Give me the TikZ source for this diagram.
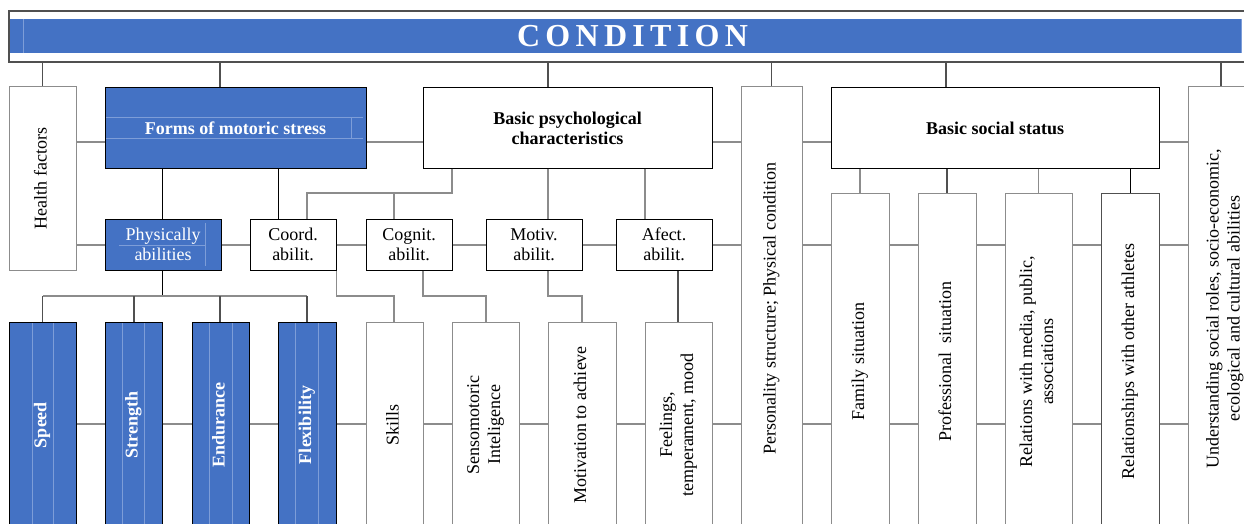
\documentclass[tikz,border=0pt]{standalone}
\usepackage{fontspec}
\setmainfont{Liberation Serif}
\usepackage{graphicx}
\definecolor{cblue}{HTML}{4472C4}
\definecolor{faint}{HTML}{7D9DD8}
\definecolor{lgray}{HTML}{8C8C8C}
\definecolor{dgray}{HTML}{505050}
\newcommand\mkbox[7]{\node[#1, minimum width={(#5-#3)*1pt}, minimum height={(#6-#4)*1pt}] (#2) at ({(#3+#5)/2},{(#4+#6)/2}) {#7};}
\newcommand\rt[1]{\rotatebox{90}{\begin{tabular}{@{}c@{}}#1\end{tabular}}}
\tikzset{
  bx/.style={draw=black, line width=1pt, fill=white, inner sep=0pt, align=center, font=\fontsize{18}{20}\selectfont},
  gbx/.style={bx, draw=lgray},
  bbx/.style={bx, fill=cblue, text=white},
  bold/.style={font=\fontsize{18}{20}\selectfont\bfseries},
  rfont/.style={font=\fontsize{18}{21}\selectfont},
  gl/.style={draw=lgray, line width=1.5pt},
  dl/.style={draw=dgray, line width=1.2pt},
  kl/.style={draw=black, line width=1pt},
  fl/.style={draw=faint, line width=0.8pt}
}
\begin{document}
\begin{tikzpicture}[x=1pt, y=-1pt]
\useasboundingbox (0,0) rectangle (1244,524);
\clip (0,0) rectangle (1244,524);
% top banner
\node[draw=dgray, line width=1.3pt, fill=white, inner sep=0pt, minimum width=1241pt, minimum height=51pt] (top) at (629.5,36.5) {};
\fill[cblue] (10,19) rectangle (1241,53);
\draw[fl] (23,19) -- (23,53) (1241,19) -- (1241,53);
\node[anchor=base, text=white, inner sep=0pt, font=\fontsize{32}{36}\selectfont\bfseries] (cond) at (632.5,47) {\hbox to 231pt{C\hfill O\hfill N\hfill D\hfill I\hfill T\hfill I\hfill O\hfill N}};
% level 1
\mkbox{gbx, rfont}{hf}{9}{87}{76}{270}{\rt{Health factors}}
\mkbox{bbx, bold}{fm}{105}{88}{366}{168}{Forms of motoric stress}
\mkbox{bx, bold}{bp}{423}{88}{712}{168}{Basic psychological\\characteristics}
\mkbox{gbx, rfont}{ps}{741}{87}{802}{530}{\rt{Personality structure; Physical condition}}
\mkbox{bx, bold}{bs}{831}{88}{1159}{168}{Basic social status}
\mkbox{gbx, rfont}{us}{1188}{87}{1262}{530}{\rt{Understanding social roles, socio-economic,\\ecological and cultural abilities}}
% level 2
\mkbox{bbx}{pa}{105}{219}{221}{270}{Physically\\abilities}
\mkbox{bx}{co}{250}{219}{336}{270}{Coord.\\abilit.}
\mkbox{bx}{cg}{366}{219}{452}{270}{Cognit.\\abilit.}
\mkbox{bx}{mo}{486}{219}{582}{270}{Motiv.\\abilit.}
\mkbox{bx}{af}{616}{219}{712}{270}{Afect.\\abilit.}
\mkbox{gbx, rfont}{fs}{831}{193}{889}{530}{\rt{Family situation}}
\mkbox{gbx, rfont}{pr}{918}{193}{976}{530}{\rt{Professional\ \ situation}}
\mkbox{gbx, rfont}{rm}{1005}{193}{1072}{530}{\rt{Relations with media, public,\\associations}}
\mkbox{bx, rfont, draw=dgray}{ra}{1101}{193}{1159}{530}{\rt{Relationships with other athletes}}
% level 3
\mkbox{bbx, bold}{sp}{9}{322}{76}{528}{\rt{Speed}}
\mkbox{bbx, bold}{st}{105}{322}{162}{528}{\rt{Strength}}
\mkbox{bbx, bold}{en}{192}{322}{249}{528}{\rt{Endurance}}
\mkbox{bbx, bold}{fl}{278}{322}{336}{528}{\rt{Flexibility}}
\mkbox{gbx, rfont}{sk}{366}{322}{423}{528}{\rt{Skills}}
\mkbox{gbx, rfont}{se}{452}{322}{519}{528}{\rt{Sensomotoric\\Inteligence}}
\mkbox{gbx, rfont}{mt}{548}{322}{616}{528}{\rt{Motivation to achieve}}
\mkbox{gbx, rfont}{fe}{645}{322}{712}{528}{\rt{Feelings,\\temperament, mood}}
% faint inner lines of blue boxes
\draw[fl] (106,117) -- (363,117) (106,138) -- (363,138) (351,117) -- (351,138);
\draw[fl] (119,245) -- (205,245) (205,223) -- (205,266);
\foreach \xx in {32,53,122,144,209,232,295,318} \draw[fl] (\xx,323) -- (\xx,524);
% drops from the banner
\draw[dl] (top.south -| hf.north) -- (hf.north);
\draw[dl] (top.south -| 220,0) -- (fm.north -| 220,0);
\draw[dl] (top.south -| 548,0) -- (bp.north -| 548,0);
\draw[dl] (top.south -| ps.north) -- (ps.north);
\draw[dl] (top.south -| 946,0) -- (bs.north -| 946,0);
\draw[dl] (top.south -| 1221,0) -- (us.north -| 1221,0);
% bracket rows
\coordinate (b1) at (0,193);
\coordinate (b2) at (0,296);
% forms of motoric stress
\draw[kl] (fm.south -| 162,0) -- (pa.north -| 162,0);
\draw[kl] (fm.south -| 278,0) -- (co.north -| 278,0);
% physically abilities to the four blue boxes
\draw[kl] (pa.south -| 162,0) -- (b2 -| 162,0);
\draw[gl] (b2 -| sp.north) -- (b2 -| 307,0);
\draw[dl] (sp.north) -- (b2 -| sp.north);
\draw[dl] (st.north -| 134,0) -- (b2 -| 134,0);
\draw[dl] (en.north -| 220,0) -- (b2 -| 220,0);
\draw[dl] (fl.north -| 307,0) -- (b2 -| 307,0);
% basic psychological characteristics
\draw[gl] (bp.south -| 452,0) |- (b1 -| 307,0) -- (co.north -| 307,0);
\draw[gl] (b1 -| 394,0) -- (cg.north -| 394,0);
\draw[gl] (bp.south -| 548,0) -- (mo.north -| 548,0);
\draw[gl] (bp.south -| 645,0) -- (af.north -| 645,0);
% abilities to bottom boxes
\draw[gl] (co.south east) |- (b2 -| 394,0) -- (sk.north -| 394,0);
\draw[gl] (cg.south -| 423,0) |- (b2 -| 486,0) -- (se.north -| 486,0);
\draw[gl] (mo.south -| 548,0) |- (b2 -| 582,0) -- (mt.north -| 582,0);
\draw[dl] (af.south -| 678,0) -- (fe.north -| 678,0);
% basic social status
\draw[gl] (bs.south -| fs.north) -- (fs.north);
\draw[dl] (bs.south -| pr.north) -- (pr.north);
\draw[gl] (bs.south -| rm.north) -- (rm.north);
\draw[kl] (bs.south -| ra.north) -- (ra.north);
% sibling rows
\coordinate (r1) at (0,142);
\coordinate (r2) at (0,245);
\coordinate (r3) at (0,424);
\foreach \a/\b in {hf/fm, fm/bp, bp/ps, ps/bs, bs/us}
  \draw[gl] (\a.east |- r1) -- (\b.west |- r1);
\foreach \a/\b in {hf/pa, pa/co, co/cg, cg/mo, mo/af, af/ps, ps/fs, fs/pr, pr/rm, rm/ra, ra/us}
  \draw[gl] (\a.east |- r2) -- (\b.west |- r2);
\foreach \a/\b in {sp/st, st/en, en/fl, fl/sk, sk/se, se/mt, mt/fe, fe/ps, ps/fs, fs/pr, pr/rm, rm/ra, ra/us}
  \draw[gl] (\a.east |- r3) -- (\b.west |- r3);
\end{tikzpicture}
\end{document}
